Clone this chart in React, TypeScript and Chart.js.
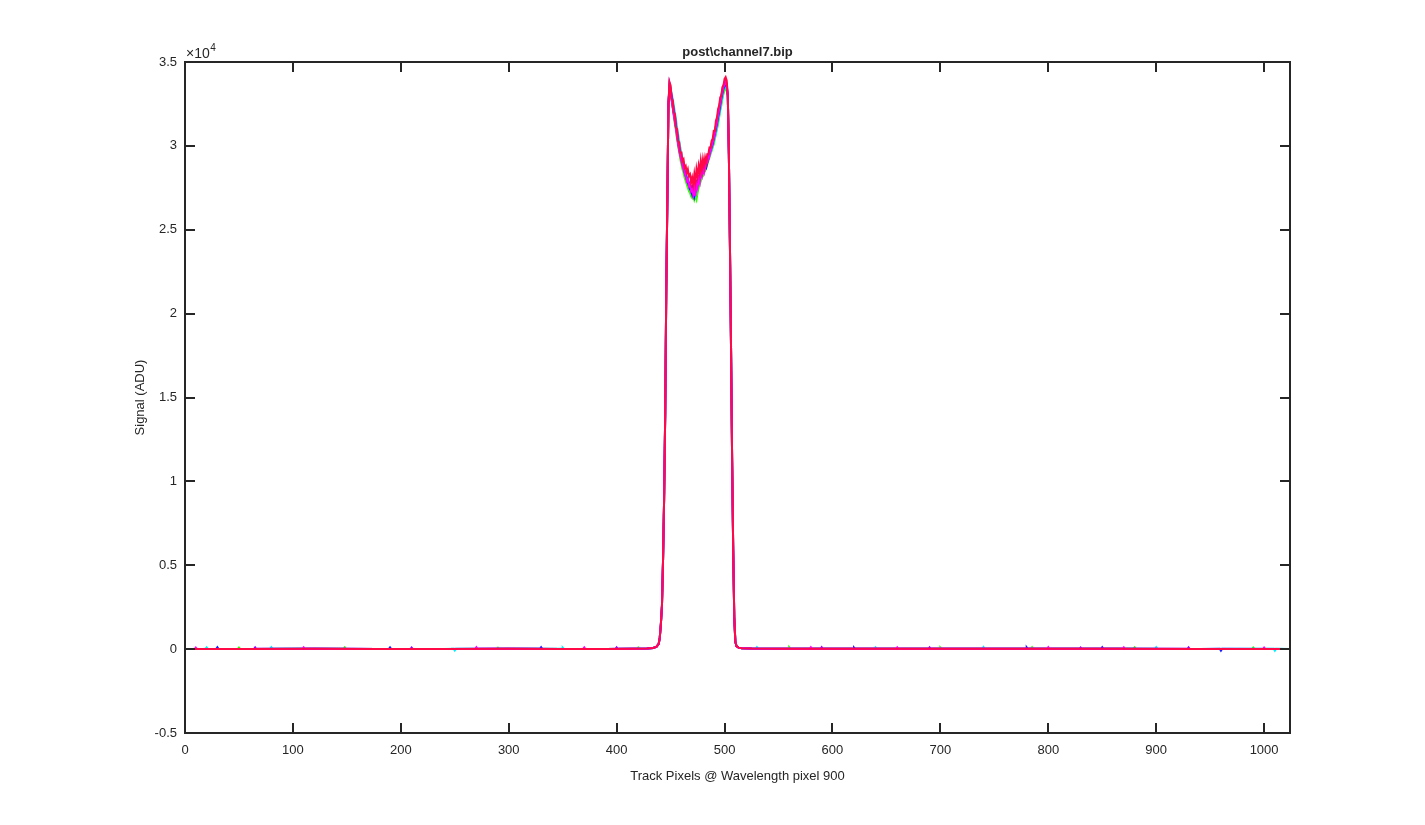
import React, { useEffect, useRef } from "react";
import { Chart, registerables } from "chart.js";
Chart.register(...registerables);

const titleText = "post\\channel7.bip";
const xTitle = "Track Pixels @ Wavelength pixel 900";
const yTitle = "Signal (ADU)";

const xTickValues = [0, 100, 200, 300, 400, 500, 600, 700, 800, 900, 1000];
const yTickValues = [-5000, 0, 5000, 10000, 15000, 20000, 25000, 30000, 35000];

// shared baseline / edges of the track profile
const footLeftX = [0, 60, 120, 180, 240, 300, 350, 390, 415, 428, 434, 437, 439];
const footLeftY = [10, 5, 15, 10, 5, 15, 10, 5, 20, 40, 70, 150, 320];
const riseX = [440, 441, 442, 443, 444, 445, 446, 447, 448];
const riseY = [700, 1500, 2600, 5300, 9000, 14000, 21500, 26800, 32500];
const fallX = [503, 504, 505, 506, 507, 508, 509, 510, 511, 513, 516, 525];
const fallY = [33000, 29500, 24000, 18000, 11400, 6000, 1900, 450, 180, 90, 50, 30];
const footRightX = [560, 620, 700, 780, 860, 940, 1024];
const footRightY = [25, 20, 25, 15, 20, 10, 10];

// top of the profile, one value per pixel
const peakX = [
  449, 450, 451, 452, 453, 454, 455, 456, 457, 458, 459, 460, 461, 462, 463, 464, 465, 466,
  467, 468, 469, 470, 471, 472, 473, 474, 475, 476, 477, 478, 479, 480, 481, 482, 483, 484,
  485, 486, 487, 488, 489, 490, 491, 492, 493, 494, 495, 496, 497, 498, 499, 500, 501, 502,
];
const peakRed = [
  33800, 33600, 32800, 32700, 32000, 31900, 31100, 31000, 30300, 30200, 29600, 29600, 29100, 29200, 28700, 28800, 28400, 28600,
  28200, 28300, 27800, 28100, 27700, 28300, 27800, 28600, 28200, 28800, 28400, 29100, 28600, 29200, 28800, 29300, 29000, 29500,
  29500, 29900, 29900, 30300, 30400, 30900, 30900, 31500, 31700, 32200, 32400, 32900, 33000, 33500, 33600, 34000, 34100, 33900,
];
const peakMagenta = [
  33600, 33300, 32700, 32300, 31800, 31400, 31000, 30500, 30100, 29700, 29400, 29100, 28800, 28600, 28400, 28200, 27900, 28000,
  27600, 27700, 27300, 27400, 27100, 27600, 27000, 27700, 27500, 28000, 27800, 28400, 28200, 28600, 28400, 28700, 28900, 29000,
  29200, 29400, 29700, 29900, 30200, 30400, 30700, 31100, 31400, 31800, 32200, 32500, 32900, 33200, 33500, 33700, 33800, 33600,
];
const peakPurple = [
  33700, 33400, 33000, 32600, 32100, 31800, 31200, 30800, 30300, 29900, 29600, 29300, 29000, 28800, 28500, 28400, 28100, 28000,
  27800, 27700, 27500, 27600, 27300, 27700, 27500, 27900, 28000, 28200, 28300, 28500, 28600, 28800, 28700, 28900, 29100, 29200,
  29400, 29700, 29900, 30100, 30400, 30600, 30900, 31200, 31600, 31900, 32300, 32700, 33000, 33300, 33600, 33800, 33900, 33700,
];
const peakBlue = [
  33500, 33200, 32800, 32300, 31900, 31500, 31100, 30700, 30200, 29800, 29500, 29200, 28900, 28700, 28400, 28200, 28000, 27800,
  27600, 27400, 27300, 27100, 27400, 27000, 27300, 27500, 27700, 27900, 28100, 28200, 28400, 28500, 28600, 28800, 28700, 29000,
  29200, 29500, 29700, 29900, 30100, 30400, 30700, 31000, 31300, 31700, 32000, 32400, 32800, 33100, 33400, 33600, 33700, 33500,
];
const peakCyan = [
  33700, 33500, 33100, 32800, 32400, 32000, 31600, 31100, 30700, 30300, 29900, 29600, 29300, 29000, 28700, 28500, 28200, 28000,
  27800, 27600, 27400, 27200, 27000, 27300, 27100, 27400, 27600, 27800, 28000, 28100, 28300, 28400, 28600, 28700, 28900, 29100,
  29300, 29400, 29600, 29800, 30000, 30300, 30500, 30800, 31100, 31500, 31800, 32200, 32600, 32900, 33300, 33500, 33600, 33400,
];
const peakGreen = [
  33400, 33100, 32700, 32300, 31800, 31300, 30900, 30400, 30000, 29600, 29200, 28900, 28600, 28400, 28100, 27900, 27700, 27500,
  27300, 27200, 27000, 26900, 27100, 26800, 27000, 26800, 27200, 27500, 27700, 27900, 28100, 28200, 28400, 28500, 28700, 28900,
  29100, 29300, 29500, 29700, 29900, 30100, 30400, 30700, 31000, 31300, 31700, 32100, 32400, 32800, 33100, 33300, 33500, 33300,
];

// small noise specks on the baseline: [pixel, value]
const specksMagenta = [[10, 90], [110, 100], [270, 110], [370, 100], [580, 110], [660, 100], [800, 110], [870, 100], [1000, 90]];
const specksPurple = [[65, 100], [210, 90], [400, 100], [590, 110], [690, 100], [830, 90], [930, 100]];
const specksBlue = [[30, 110], [190, 100], [330, 110], [620, 90], [780, 100], [850, 110], [960, -90]];
const specksCyan = [[20, 100], [80, 110], [250, -80], [350, 90], [530, 110], [640, 100], [740, 120], [900, 110], [1010, -90]];
const specksGreen = [[50, 90], [148, 100], [290, 80], [420, 90], [560, 100], [700, 90], [785, 110], [880, 100], [990, 90]];

const BASE = 15;

function buildSeries(peak: number[], specks: number[][]) {
  const pts: { x: number; y: number }[] = [];
  footLeftX.forEach((x, i) => pts.push({ x, y: footLeftY[i] }));
  riseX.forEach((x, i) => pts.push({ x, y: riseY[i] }));
  peakX.forEach((x, i) => pts.push({ x, y: peak[i] }));
  fallX.forEach((x, i) => pts.push({ x, y: fallY[i] }));
  footRightX.forEach((x, i) => pts.push({ x, y: footRightY[i] }));
  specks.forEach(([x, y]) => {
    pts.push({ x: x - 1, y: BASE });
    pts.push({ x, y });
    pts.push({ x: x + 1, y: BASE });
  });
  pts.sort((a, b) => a.x - b.x);
  return pts;
}

const FONT = '"Liberation Sans", Arial, Helvetica, sans-serif';
const INK = "#262626";

const framePlugin = {
  id: "frame",
  afterDatasetsDraw(chart: any) {
    const { ctx, chartArea: a, scales } = chart;
    ctx.save();
    ctx.strokeStyle = INK;
    ctx.lineWidth = 2;
    ctx.strokeRect(a.left, a.top, a.right - a.left, a.bottom - a.top);
    const tl = 10;
    ctx.beginPath();
    scales.x.ticks.forEach((t: any) => {
      const px = Math.round(scales.x.getPixelForValue(t.value));
      ctx.moveTo(px, a.bottom);
      ctx.lineTo(px, a.bottom - tl);
      ctx.moveTo(px, a.top);
      ctx.lineTo(px, a.top + tl);
    });
    scales.y.ticks.forEach((t: any) => {
      const py = Math.round(scales.y.getPixelForValue(t.value));
      ctx.moveTo(a.left, py);
      ctx.lineTo(a.left + tl, py);
      ctx.moveTo(a.right, py);
      ctx.lineTo(a.right - tl, py);
    });
    ctx.stroke();

    ctx.fillStyle = INK;
    ctx.textAlign = "center";
    ctx.textBaseline = "alphabetic";
    ctx.font = `bold 13px ${FONT}`;
    ctx.fillText(titleText, (a.left + a.right) / 2, 56);
    ctx.font = `13px ${FONT}`;
    ctx.fillText(xTitle, (a.left + a.right) / 2, 780);
    ctx.save();
    ctx.translate(144, (a.top + a.bottom) / 2);
    ctx.rotate(-Math.PI / 2);
    ctx.fillText(yTitle, 0, 0);
    ctx.restore();

    ctx.textAlign = "left";
    ctx.font = `14px ${FONT}`;
    const base = "\u00d710";
    ctx.fillText(base, a.left + 1, 58);
    const w = ctx.measureText(base).width;
    ctx.font = `10px ${FONT}`;
    ctx.fillText("4", a.left + 1 + w + 0.5, 51);
    ctx.restore();
  },
};

export default function App() {
  const ref = useRef<HTMLCanvasElement>(null);
  useEffect(() => {
    document.body.style.margin = "0";
    const datasets = [
      { label: "s6", data: buildSeries(peakRed, []), borderColor: "#ff0a46" },
      { label: "s5", data: buildSeries(peakMagenta, specksMagenta), borderColor: "#ff00ff" },
      { label: "s4", data: buildSeries(peakPurple, specksPurple), borderColor: "#9a00ff" },
      { label: "s3", data: buildSeries(peakBlue, specksBlue), borderColor: "#1a1aff" },
      { label: "s2", data: buildSeries(peakCyan, specksCyan), borderColor: "#00f0ff" },
      { label: "s1", data: buildSeries(peakGreen, specksGreen), borderColor: "#33ff00" },
    ].map((d) => ({ ...d, borderWidth: 2, pointRadius: 0, tension: 0, fill: false }));

    const chart = new Chart(ref.current!, {
      type: "line",
      data: { datasets },
      options: {
        animation: false,
        responsive: false,
        devicePixelRatio: 1,
        layout: { padding: { left: 0, right: 135, top: 62, bottom: 0 } },
        plugins: { legend: { display: false }, tooltip: { enabled: false }, title: { display: false } },
        scales: {
          x: {
            type: "linear",
            min: 0,
            max: 1024,
            afterBuildTicks: (s: any) => {
              s.ticks = xTickValues.map((v) => ({ value: v }));
            },
            afterFit: (s: any) => {
              s.height = 92;
            },
            grid: { display: false, drawTicks: false },
            border: { display: false },
            ticks: {
              color: INK,
              font: { family: FONT, size: 13 },
              padding: 10,
              maxRotation: 0,
              autoSkip: false,
              callback: (v: any) => String(v),
            },
          },
          y: {
            type: "linear",
            min: -5000,
            max: 35000,
            afterBuildTicks: (s: any) => {
              s.ticks = yTickValues.map((v) => ({ value: v }));
            },
            afterFit: (s: any) => {
              s.width = 185;
            },
            grid: { display: false, drawTicks: false },
            border: { display: false },
            ticks: {
              color: INK,
              font: { family: FONT, size: 13 },
              padding: 8,
              autoSkip: false,
              callback: (v: any) => String(Number(v) / 10000),
            },
          },
        },
      },
      plugins: [framePlugin],
    });
    return () => chart.destroy();
  }, []);
  return (
    <div style={{ position: "absolute", left: 0, top: 0, width: 1425, height: 825, background: "#fff" }}>
      <canvas ref={ref} width={1425} height={825} style={{ display: "block", width: 1425, height: 825 }} />
    </div>
  );
}
